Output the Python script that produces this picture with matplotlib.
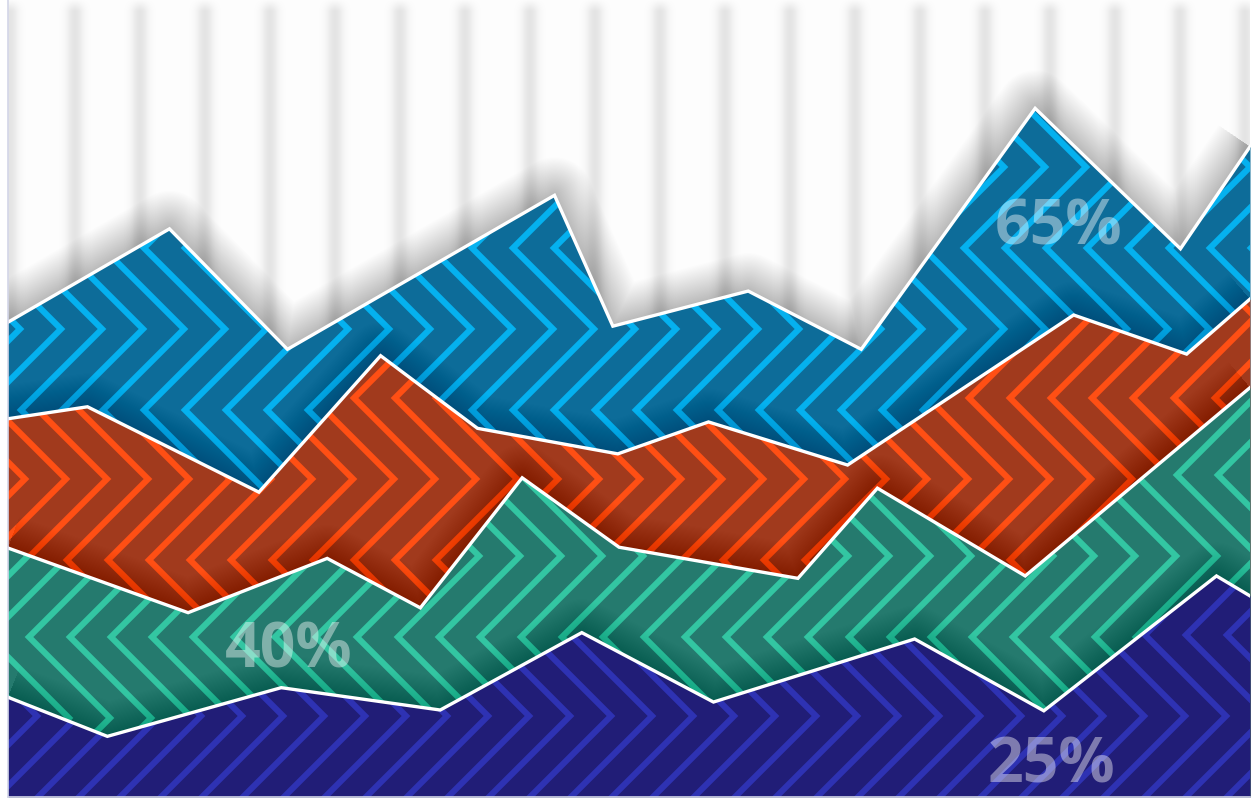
import numpy as np
import matplotlib
matplotlib.use("Agg")
import matplotlib.pyplot as plt

# ---- data (cumulative top boundary of each stacked layer, 0-100 scale) ----
blue_x = [0, 13.0, 22.5, 44.0, 48.7, 59.6, 68.7, 82.7, 94.4, 100]
blue_y = [59.5, 71.2, 56.1, 75.4, 59.0, 63.4, 56.1, 86.3, 68.7, 81.5]

orange_x = [0, 6.4, 20.2, 30.0, 37.8, 49.1, 56.4, 67.6, 85.8, 94.9, 100]
orange_y = [47.4, 48.9, 38.2, 55.3, 46.2, 43.0, 47.0, 41.6, 60.4, 55.5, 62.4]

teal_x = [0, 14.5, 25.7, 33.2, 41.4, 49.2, 63.6, 70.0, 81.9, 100]
teal_y = [31.2, 23.1, 29.9, 23.7, 40.0, 31.3, 27.4, 38.7, 27.7, 51.3]

navy_x = [0, 8.0, 22.0, 34.8, 46.2, 56.8, 73.0, 83.4, 97.3, 100]
navy_y = [12.5, 7.6, 13.7, 10.9, 20.6, 11.9, 19.8, 10.8, 27.7, 25.2]

labels = ["65%", "40%", "25%"]
label_x = [84.6, 22.6, 84.0]
label_y = [69.3, 16.3, 1.9]

# ---- figure ----
W_PX, H_PX = 1252, 803
fig = plt.figure(figsize=(W_PX / 100, H_PX / 100), dpi=100)
fig.patch.set_facecolor("white")
AX_L, AX_B, AX_W, AX_H = 8, 5, 1242, 798
ax = fig.add_axes([AX_L / W_PX, AX_B / H_PX, AX_W / W_PX, AX_H / H_PX])
ax.set_xlim(0, 100)
ax.set_ylim(0, 100)
ax.set_xticks([])
ax.set_yticks([])
for s in ["top", "right"]:
    ax.spines[s].set_visible(False)
for s in ["left", "bottom"]:
    ax.spines[s].set_color("#d3d6e8")
    ax.spines[s].set_linewidth(1.2)
    ax.spines[s].set_zorder(50)

rows = np.arange(AX_H)[:, None] + 0.5
cols = np.arange(AX_W)[None, :] + AX_L + 0.5

# background with soft vertical stripes
dx = ((cols - 10) + 32.5) % 65 - 32.5
bg = 0.995 - 0.10 * np.exp(-(dx / 8.5) ** 2)
fade = np.clip(rows / 12.0, 0, 1)
bg = 0.995 - (0.995 - bg) * fade
bg_rgb = np.dstack([bg, bg, bg])
ax.imshow(bg_rgb, extent=[0, 100, 0, 100], aspect="auto", zorder=0,
          interpolation="bilinear", origin="upper")


def hex2rgb(h):
    h = h.lstrip("#")
    return np.array([int(h[i:i + 2], 16) / 255 for i in (0, 2, 4)])


def chevron(dark, light, ya, c0, P=162.0, d=41.0, hw=3.1):
    dist = np.abs(((rows - ya + P / 2) % P) - P / 2)
    s = (cols + dist - c0) % d
    e = np.minimum(s, d - s) / np.sqrt(2)
    a = np.clip(hw - e + 0.5, 0, 1)[..., None]
    dk, lt = hex2rgb(dark), hex2rgb(light)
    return dk * (1 - a) + lt * a


layers = [
    (blue_x, blue_y, "#0d6c99", "#05b1ef", 330, 20, 0.0085, 34),
    (orange_x, orange_y, "#a13a1d", "#ff4f14", 480, 25, 0.0045, 30),
    (teal_x, teal_y, "#257a6e", "#33c6a2", 557, 28, 0.0045, 30),
    (navy_x, navy_y, "#211d77", "#2e32b3", 717, 37, 0.0045, 30),
]

z = 2
for (xs, ys, dark, light, ya, c0, sa, n) in layers:
    # soft drop shadow along the top edge
    for i in range(n):
        ax.plot(xs, ys, color="black", lw=2 + 1.6 * i, alpha=sa,
                solid_joinstyle="round", solid_capstyle="butt", zorder=z)
    z += 1
    poly = ax.fill_between(xs, 0, ys, color=dark, lw=0, zorder=z)
    z += 1
    img = chevron(dark, light, ya, c0)
    im = ax.imshow(img, extent=[0, 100, 0, 100], aspect="auto", zorder=z,
                   interpolation="nearest", origin="upper")
    im.set_clip_path(poly.get_paths()[0], transform=ax.transData)
    z += 1

for (xs, ys, *_rest) in layers:
    ax.plot(xs, ys, color="white", lw=2.4, solid_joinstyle="miter", zorder=40)

for t, x, y in zip(labels, label_x, label_y):
    ax.text(x, y, t, ha="center", va="baseline", fontsize=45,
            fontfamily="Open Sans", fontweight="bold", color="white",
            alpha=0.42, zorder=45)

fig.savefig("out.png", dpi=100, facecolor="white")
